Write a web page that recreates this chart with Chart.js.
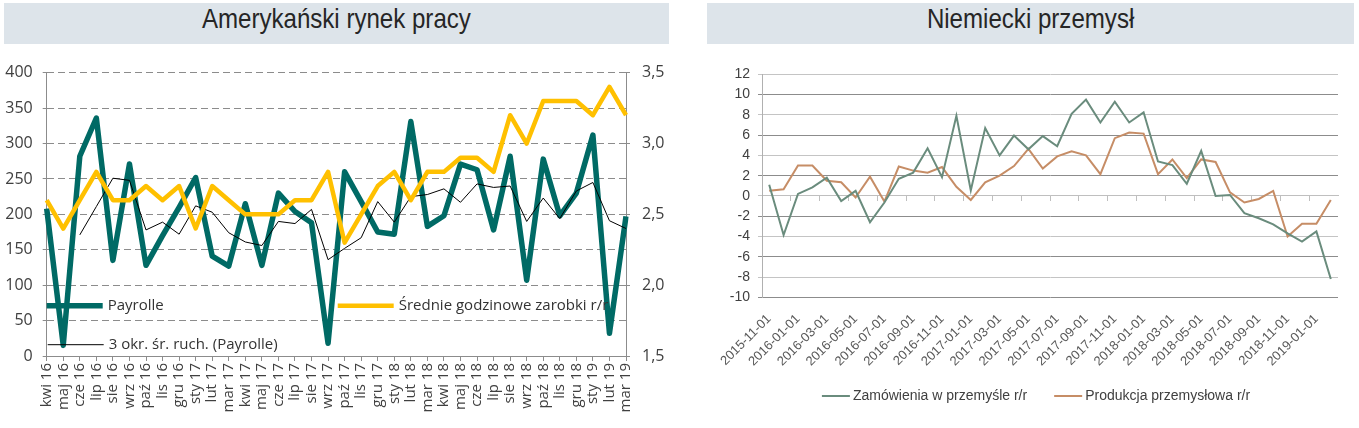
<!DOCTYPE html>
<html lang="pl">
<head>
<meta charset="utf-8">
<script src="https://cdn.jsdelivr.net/npm/chart.js@4.4.1/dist/chart.umd.min.js"></script>
<style>
  body { margin: 0; background: #fff; width: 1359px; height: 428px; overflow: hidden; position: relative; }
  .title { position: absolute; top: 3px; height: 41px; line-height: 41px; background: #dde4ea; color: #262626;
           text-align: center; font: 28px 'Liberation Sans Narrow', 'Liberation Sans', sans-serif; }
  .title span { display: inline-block; transform: scaleX(0.86); }
  .box { position: absolute; top: 48px; height: 380px; }
</style>
</head>
<body>
<div class="title" style="left:4px;width:665px"><span>Amerykański rynek pracy</span></div>
<div class="title" style="left:707px;width:647px"><span>Niemiecki przemysł</span></div>
<div class="box" style="left:0;width:680px"><canvas id="usChart"></canvas></div>
<div class="box" style="left:690px;width:669px"><canvas id="deChart"></canvas></div>
<script>
// ---- data: US labour market ----
const usMonths = ['kwi 16', 'maj 16', 'cze 16', 'lip 16', 'sie 16', 'wrz 16', 'paź 16', 'lis 16', 'gru 16',
    'sty 17', 'lut 17', 'mar 17', 'kwi 17', 'maj 17', 'cze 17', 'lip 17', 'sie 17', 'wrz 17', 'paź 17', 'lis 17', 'gru 17',
    'sty 18', 'lut 18', 'mar 18', 'kwi 18', 'maj 18', 'cze 18', 'lip 18', 'sie 18', 'wrz 18', 'paź 18', 'lis 18', 'gru 18',
    'sty 19', 'lut 19', 'mar 19'];
const payrolls = [208, 15, 282, 336, 135, 271, 128, 170, 210, 252, 141, 127, 215, 128, 230, 204, 188, 18,
    260, 218, 175, 172, 331, 183, 198, 271, 263, 178, 282, 107, 278, 198, 230, 312, 32, 197];
const payrollsMA3 = [null, null, 171, 211, 251, 248, 178, 189, 172, 212, 203, 174, 161, 156, 190, 187, 207, 136,
    152, 167, 218, 189, 225, 228, 236, 217, 243, 238, 240, 190, 223, 194, 233, 245, 191, 180];
const hourlyEarnings = [2.6, 2.4, 2.6, 2.8, 2.6, 2.6, 2.7, 2.6, 2.7, 2.4, 2.7, 2.6, 2.5, 2.5, 2.5, 2.6, 2.6, 2.8,
    2.3, 2.5, 2.7, 2.8, 2.6, 2.8, 2.8, 2.9, 2.9, 2.8, 3.2, 3.0, 3.3, 3.3, 3.3, 3.2, 3.4, 3.2];

// ---- data: German industry ----
const deMonths = ['2015-11-01', '2015-12-01',
    '2016-01-01', '2016-02-01', '2016-03-01', '2016-04-01', '2016-05-01', '2016-06-01',
    '2016-07-01', '2016-08-01', '2016-09-01', '2016-10-01', '2016-11-01', '2016-12-01',
    '2017-01-01', '2017-02-01', '2017-03-01', '2017-04-01', '2017-05-01', '2017-06-01',
    '2017-07-01', '2017-08-01', '2017-09-01', '2017-10-01', '2017-11-01', '2017-12-01',
    '2018-01-01', '2018-02-01', '2018-03-01', '2018-04-01', '2018-05-01', '2018-06-01',
    '2018-07-01', '2018-08-01', '2018-09-01', '2018-10-01', '2018-11-01', '2018-12-01',
    '2019-01-01', '2019-02-01'];
const factoryOrders = [1.1, -3.85, 0.2, 0.85, 1.8, -0.5, 0.5, -2.6, -0.65, 1.7, 2.3, 4.7, 1.85, 7.9, 0.55, 6.7,
    4.0, 5.95, 4.6, 5.9, 4.9, 8.1, 9.5, 7.25, 9.3, 7.25, 8.25, 3.4, 3.05, 1.2, 4.45, 0.0, 0.1, -1.7, -2.2, -2.8,
    -3.7, -4.5, -3.5, -8.2];
const industrialOutput = [0.5, 0.65, 3.0, 3.0, 1.5, 1.35, -0.15, 1.9, -0.55, 2.9, 2.5, 2.3, 2.85, 0.9, -0.4, 1.35,
    2.0, 2.95, 4.65, 2.7, 3.9, 4.4, 4.0, 2.15, 5.7, 6.25, 6.15, 2.15, 3.6, 1.75, 3.6, 3.35, 0.35, -0.65, -0.3, 0.5,
    -4.0, -2.75, -2.75, -0.4];

const SANS = "'Open Sans', sans-serif";
const NARROW = "'Liberation Sans Narrow', 'Arial Narrow', sans-serif";

document.addEventListener('DOMContentLoaded', function () {

    // ==================== AMERYKAŃSKI RYNEK PRACY ====================
    // legend lives inside the plot, so it is drawn by hand
    const usLegend = {
        id: 'usLegend',
        afterDatasetsDraw(chart) {
            const { ctx, chartArea: a } = chart;
            const ds = chart.data.datasets;
            const items = [
                { d: ds[2], x: a.left, y: a.top + 233 },
                { d: ds[0], x: a.left + 291, y: a.top + 233 },
                { d: ds[1], x: a.left + 1, y: a.top + 272 }
            ];
            ctx.save();
            ctx.font = '15px ' + SANS;
            ctx.fillStyle = '#333';
            ctx.textBaseline = 'middle';
            items.forEach(it => {
                ctx.beginPath();
                ctx.strokeStyle = it.d.borderColor;
                ctx.lineWidth = it.d.borderWidth;
                ctx.moveTo(it.x, it.y);
                ctx.lineTo(it.x + 56, it.y);
                ctx.stroke();
                ctx.fillText(it.d.label, it.x + 61, it.y);
            });
            ctx.restore();
        }
    };

    new Chart(document.getElementById('usChart'), {
        type: 'line',
        data: {
            labels: usMonths,
            datasets: [{
                label: 'Średnie godzinowe zarobki r/r',
                data: hourlyEarnings,
                yAxisID: 'y1',
                borderColor: '#ffc000',
                borderWidth: 4.5,
                borderJoinStyle: 'round',
                pointRadius: 0,
                order: 0
            }, {
                label: '3 okr. śr. ruch. (Payrolle)',
                data: payrollsMA3,
                yAxisID: 'y',
                borderColor: '#000',
                borderWidth: 1,
                pointRadius: 0,
                order: 1
            }, {
                label: 'Payrolle',
                data: payrolls,
                yAxisID: 'y',
                borderColor: '#006a65',
                borderWidth: 5.5,
                borderJoinStyle: 'round',
                pointRadius: 0,
                order: 2
            }]
        },
        options: {
            responsive: true,
            maintainAspectRatio: false,
            animation: false,
            layout: { padding: { top: 24.7, left: 0, right: 0, bottom: 0 } },
            plugins: { legend: { display: false }, tooltip: { enabled: false } },
            scales: {
                x: {
                    offset: false,
                    grid: { drawOnChartArea: false, color: '#8c8c8c', tickLength: 5 },
                    border: { color: '#8c8c8c' },
                    ticks: {
                        autoSkip: false, minRotation: 90, maxRotation: 90, padding: 2,
                        color: '#404040', font: { family: SANS, size: 15 }
                    },
                    afterFit: s => { s.height = 72; }
                },
                y: {
                    min: 0, max: 400,
                    ticks: { stepSize: 50, padding: 10, color: '#404040', font: { family: SANS, size: 16 } },
                    grid: { color: '#8c8c8c', tickLength: 4 },
                    border: { color: '#8c8c8c', dash: [7, 4] },
                    afterFit: s => { s.width = 46.7; }
                },
                y1: {
                    position: 'right',
                    min: 1.5, max: 3.5,
                    ticks: {
                        stepSize: 0.5, padding: 12, color: '#404040', font: { family: SANS, size: 16 },
                        callback: v => v.toFixed(1).replace('.', ',')
                    },
                    grid: { drawOnChartArea: false, color: '#8c8c8c', tickLength: 4 },
                    border: { color: '#8c8c8c' },
                    afterFit: s => { s.width = 54; }
                }
            }
        },
        plugins: [usLegend]
    });

    // ==================== NIEMIECKI PRZEMYSŁ ====================
    const deLegend = {
        id: 'deLegend',
        afterDraw(chart) {
            const { ctx } = chart;
            const ds = chart.data.datasets;
            const lineW = 28, gap = 3, spacing = 27;
            ctx.save();
            ctx.font = '14px ' + NARROW;
            const widths = ds.map(d => ctx.measureText(d.label).width);
            const total = widths.reduce((s, w) => s + lineW + gap + w, 0) + spacing * (ds.length - 1);
            let x = 346 - total / 2;
            const y = 348;
            ctx.textBaseline = 'middle';
            ds.forEach((d, i) => {
                ctx.beginPath();
                ctx.strokeStyle = d.borderColor;
                ctx.lineWidth = 2;
                ctx.moveTo(x, y);
                ctx.lineTo(x + lineW, y);
                ctx.stroke();
                ctx.fillStyle = '#404040';
                ctx.fillText(d.label, x + lineW + gap, y);
                x += lineW + gap + widths[i] + spacing;
            });
            ctx.restore();
        }
    };

    new Chart(document.getElementById('deChart'), {
        type: 'line',
        data: {
            labels: deMonths,
            datasets: [{
                label: 'Zamówienia w przemyśle r/r',
                data: factoryOrders,
                borderColor: '#6a8c7d',
                borderWidth: 2,
                pointRadius: 0,
                tension: 0
            }, {
                label: 'Produkcja przemysłowa r/r',
                data: industrialOutput,
                borderColor: '#c68d66',
                borderWidth: 2,
                pointRadius: 0,
                tension: 0
            }]
        },
        options: {
            responsive: true,
            maintainAspectRatio: false,
            animation: false,
            layout: { padding: { top: 26.3, left: 0, right: 21, bottom: 55.7 } },
            plugins: { legend: { display: false }, tooltip: { enabled: false } },
            scales: {
                x: {
                    offset: true,
                    grid: { display: false },
                    border: { display: false },
                    ticks: {
                        autoSkip: false, minRotation: 45, maxRotation: 45, padding: 6,
                        color: '#595959', font: { family: NARROW, size: 13 },
                        callback: function (v, i) { return i % 2 === 0 ? this.getLabelForValue(v) : ''; }
                    },
                    afterFit: s => { s.height = 75; }
                },
                x2: {
                    type: 'category',
                    axis: 'x',
                    labels: deMonths,
                    position: { y: 0 },
                    offset: true,
                    grid: {
                        offset: true, drawOnChartArea: false, tickLength: 5,
                        color: c => c.index % 2 === 0 ? '#bfbfbf' : 'rgba(0,0,0,0)'
                    },
                    border: { color: '#bfbfbf' },
                    ticks: { display: false }
                },
                y: {
                    min: -10, max: 12,
                    ticks: { stepSize: 2, padding: 8, color: '#404040', font: { family: NARROW, size: 14 } },
                    grid: {
                        tickLength: 4,
                        color: c => (Math.round(c.tick.value / 2) % 2 !== 0) ? '#8c8c8c' : '#c4c4c4'
                    },
                    border: { color: '#b0b0b0' },
                    afterFit: s => { s.width = 72; }
                }
            }
        },
        plugins: [deLegend]
    });
});
</script>
</body>
</html>
